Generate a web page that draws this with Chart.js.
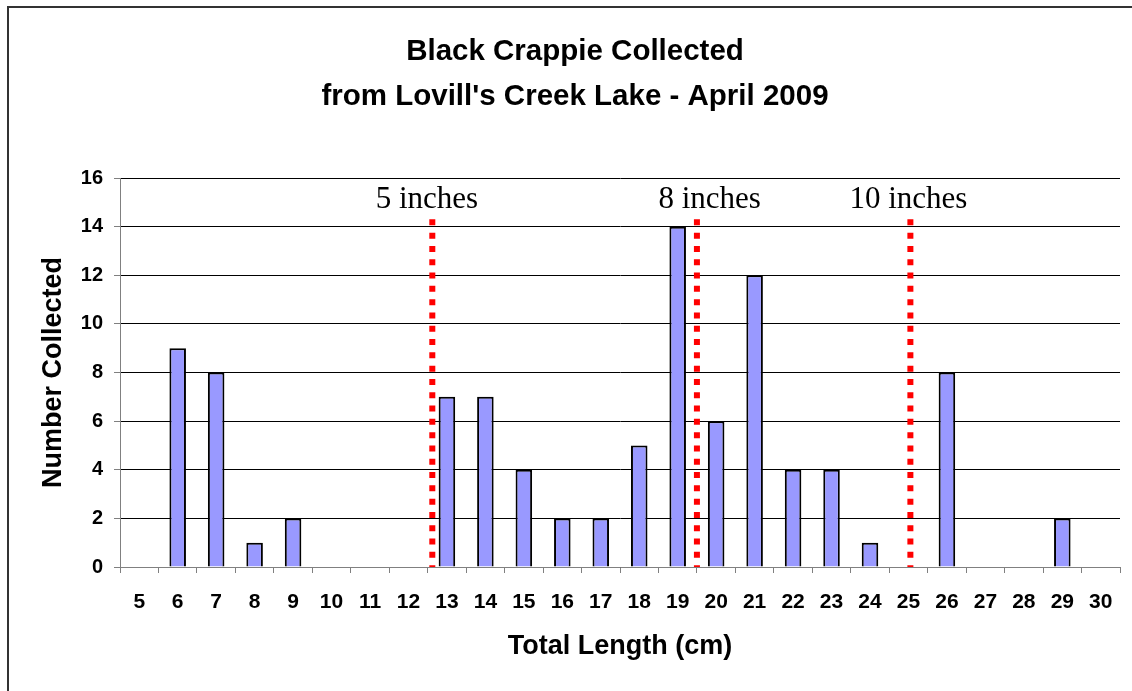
<!DOCTYPE html>
<html>
<head>
<meta charset="utf-8">
<script src="https://cdn.jsdelivr.net/npm/chart.js@4/dist/chart.umd.min.js"></script>
<style>
  html, body { margin: 0; padding: 0; background: #fff; }
  #wrap { width: 1132px; height: 691px; position: relative; }
</style>
</head>
<body>
<div id="wrap"><canvas id="c" width="1132" height="691"></canvas></div>
<script>
// ---- data ----
const lengthsCm = ['5','6','7','8','9','10','11','12','13','14','15','16','17','18','19','20','21','22','23','24','25','26','27','28','29','30'];
const counts =    [null,9,8,1,2,null,null,null,7,7,4,2,2,5,14,6,12,4,4,1,null,8,null,null,2,null];
const yTicks = [0,2,4,6,8,10,12,14,16];
const markerPositionsCm = [12.62, 19.5, 25.05];
const markerTop = 14.3;
const markerLabels = ['5 inches', '8 inches', '10 inches'];
const markerLabelCm = [12.48, 19.83, 25.0];
const markerLabelY = 15.1;
const titleLines = ['Black Crappie Collected', "from Lovill's Creek Lake - April 2009"];

const FONT = "'Liberation Sans', Arial, sans-serif";

const markerDatasets = markerPositionsCm.map((cm, i) => ({
  type: 'line',
  xAxisID: 'xl',
  data: [{x: cm, y: markerTop}, {x: cm, y: 0}],
  borderColor: '#ff0000',
  borderWidth: 6,
  borderDash: [6, 7.3],
  borderCapStyle: 'butt',
  pointRadius: 0,
  fill: false,
  order: 0
}));

const framePlugin = {
  id: 'frame',
  beforeDraw(chart) {
    const ctx = chart.ctx;
    ctx.save();
    ctx.fillStyle = '#fff';
    ctx.fillRect(0, 0, chart.width, chart.height);
    ctx.strokeStyle = '#333';
    ctx.lineWidth = 2;
    ctx.strokeRect(8, 7, chart.width + 20, chart.height + 20);
    ctx.restore();
  }
};

const markerLabelPlugin = {
  id: 'markerLabels',
  afterDatasetsDraw(chart) {
    const ctx = chart.ctx;
    const xs = chart.scales.xl, ys = chart.scales.y;
    ctx.save();
    ctx.font = "31px 'Liberation Serif', 'Times New Roman', serif";
    ctx.fillStyle = '#000';
    ctx.textAlign = 'center';
    ctx.textBaseline = 'middle';
    markerLabels.forEach((t, i) => {
      ctx.fillText(t, xs.getPixelForValue(markerLabelCm[i]), ys.getPixelForValue(markerLabelY));
    });
    ctx.restore();
  }
};

new Chart(document.getElementById('c'), {
  type: 'bar',
  data: {
    labels: lengthsCm,
    datasets: [{
      data: counts,
      backgroundColor: '#9999ff',
      borderColor: '#000',
      borderWidth: 2,
      barPercentage: 0.43,
      categoryPercentage: 1,
      grouped: false,
      order: 1
    }, ...markerDatasets]
  },
  options: {
    responsive: false,
    animation: false,
    events: [],
    layout: { padding: { left: 30, right: 12, top: 7, bottom: 0 } },
    plugins: {
      legend: { display: false },
      tooltip: { enabled: false },
      title: {
        display: true,
        text: titleLines,
        color: '#000',
        font: { family: FONT, size: 29.5, weight: 'bold', lineHeight: 45/29.5 },
        padding: { top: 22.5, bottom: 58.5 }
      }
    },
    scales: {
      x: {
        type: 'category',
        offset: true,
        grid: { display: true, drawOnChartArea: false, drawTicks: true, tickLength: 6, offset: true, color: '#808080', tickColor: '#808080' },
        border: { display: true, color: '#808080', width: 1 },
        ticks: { color: '#000', font: { family: FONT, size: 21, weight: 'bold' }, padding: 17, maxRotation: 0, autoSkip: false },
        title: { display: true, text: 'Total Length (cm)', color: '#000', font: { family: FONT, size: 27, weight: 'bold', lineHeight: 1.2 }, padding: { top: 0, bottom: 28 } },
        afterFit(s) { s.height = 124; }
      },
      xl: {
        type: 'linear',
        display: false,
        offset: false,
        min: 4.5,
        max: 30.5
      },
      y: {
        min: 0, max: 16,
        afterBuildTicks(s) { s.ticks = yTicks.map(v => ({ value: v })); },
        grid: { color: '#000', lineWidth: 1, drawTicks: true, tickLength: 6, tickColor: '#808080' },
        border: { display: true, color: '#808080', width: 1 },
        ticks: { color: '#000', font: { family: FONT, size: 20, weight: 'bold' }, padding: 11 },
        title: { display: true, text: 'Number Collected', color: '#000', font: { family: FONT, size: 27, weight: 'bold', lineHeight: 1.2 }, padding: { top: 7, bottom: 0 } },
        afterFit(s) { s.width = 90; }
      }
    }
  },
  plugins: [framePlugin, markerLabelPlugin]
});
</script>
</body>
</html>
